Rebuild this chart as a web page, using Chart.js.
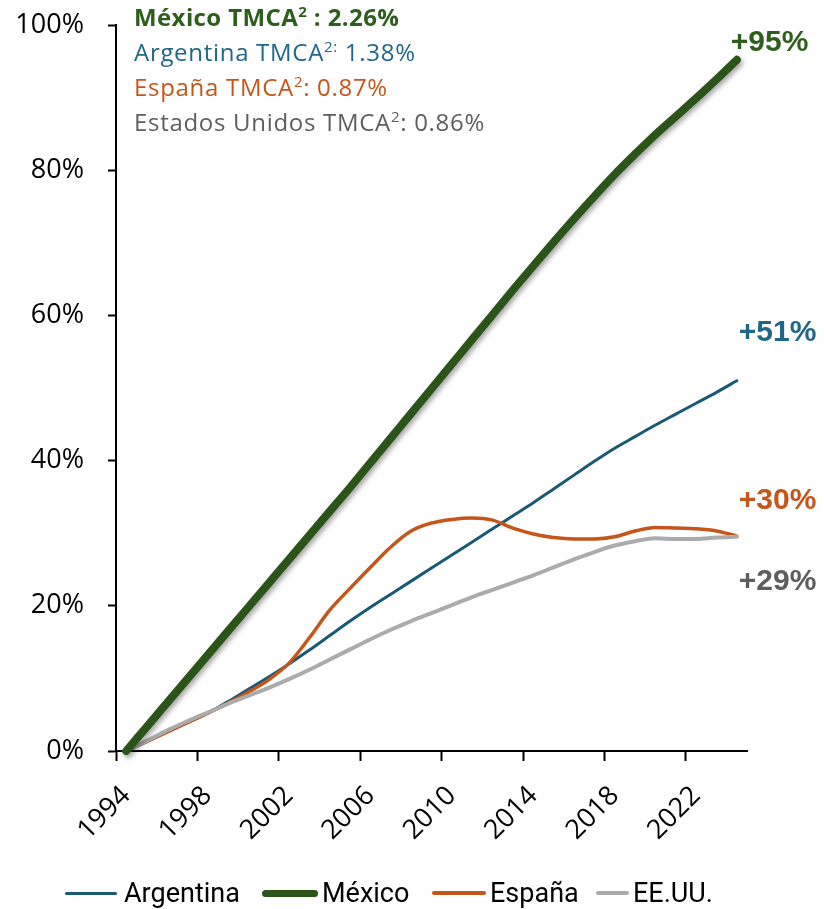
<!DOCTYPE html>
<html>
<head>
<meta charset="utf-8">
<script src="https://cdn.jsdelivr.net/npm/chart.js@4.4.1/dist/chart.umd.min.js"></script>
<style>
  html, body { margin: 0; padding: 0; background: #fff; }
  #wrap { position: relative; width: 824px; height: 909px; }
  #legend {
    position: absolute; left: 0; top: 876px; width: 824px; height: 34px;
    font-family: Roboto, "Noto Sans", sans-serif;
    font-size: 27px; color: #000; line-height: 34px;
  }
  #legend .swatch { position: absolute; border-radius: 4px; }
  #legend .name { position: absolute; top: 0; white-space: nowrap; }
</style>
</head>
<body>
<div id="wrap">
  <canvas id="chart" width="824" height="909"></canvas>
  <div id="legend"></div>
</div>
<script>
// Years on the category axis
const YEARS = ['1994', '1995', '1996', '1997', '1998', '1999', '2000', '2001', '2002', '2003',
  '2004', '2005', '2006', '2007', '2008', '2009', '2010', '2011', '2012', '2013', '2014',
  '2015', '2016', '2017', '2018', '2019', '2020', '2021', '2022', '2023', '2024'];

// Cumulative growth since 1994, in %
const ARGENTINA = [0, 1.3, 2.6, 3.9, 5.2, 6.8, 8.5, 10.2, 12.0, 13.9, 15.9, 17.9, 19.8, 21.6,
  23.4, 25.2, 27.0, 28.8, 30.6, 32.4, 34.2, 36.1, 38.0, 39.9, 41.7, 43.3, 44.9, 46.4, 47.9, 49.4, 51.0];
const MEXICO = [0, 3.3, 6.6, 9.9, 13.2, 16.5, 19.8, 23.1, 26.4, 29.7, 33.0, 36.3, 39.7, 43.1,
  46.5, 49.9, 53.3, 56.7, 60.1, 63.5, 66.8, 70.1, 73.3, 76.4, 79.4, 82.2, 84.9, 87.4, 89.9, 92.5, 95.2];
const ESPANA = [0, 1.3, 2.6, 3.9, 5.2, 6.6, 8.1, 9.8, 12.1, 15.6, 19.4, 22.4, 25.3, 28.1,
  30.3, 31.4, 31.9, 32.1, 31.8, 30.7, 29.9, 29.4, 29.2, 29.2, 29.5, 30.3, 30.8, 30.7, 30.6, 30.3, 29.6];
const EEUU = [0, 1.4, 2.8, 4.1, 5.3, 6.5, 7.6, 8.7, 9.9, 11.2, 12.6, 14.0, 15.4, 16.7,
  17.9, 19.0, 20.1, 21.2, 22.2, 23.2, 24.2, 25.3, 26.4, 27.4, 28.3, 28.9, 29.3, 29.2, 29.2, 29.4, 29.5];

const SERIES_NAMES = ['Argentina', 'México', 'España', 'EE.UU.'];
const END_LABELS = ['+51%', '+95%', '+30%', '+29%'];
const Y_MAX = 100;
const Y_STEP = 20;

// [before superscript, superscript, after]
const HEADER_TEXT = [
  ['México TMCA', '2', ' : 2.26%'],
  ['Argentina TMCA', '2:', ' 1.38%'],
  ['España TMCA', '2', ': 0.87%'],
  ['Estados Unidos TMCA', '2', ': 0.86%'],
];

const LINE_COLORS = ['#185A74', '#2A5418', '#C5561A', '#ABABAB'];
const TEXT_COLORS = ['#1F6788', '#2E5E1C', '#C5561A', '#5E5E5E'];
const HEADER_ORDER = [1, 0, 2, 3]; // header row -> series index
const LINE_WIDTHS = [3, 8, 3.5, 4];
const DRAW_ORDER = [3, 0, 2, 1]; // lower = on top
// end label offsets from last point (px)
const LABEL_OFFSETS = [[2, -48], [-6, -17], [2, -35], [2, 45]];
// legend: swatch left/right, text left
const LEGEND_POS = [[65, 117, 124], [262, 318, 322], [432, 486, 490], [596, 629, 633]];

const FONT = '"Open Sans", "Noto Sans", sans-serif';

const shadowPlugin = {
  id: 'lineShadow',
  beforeDatasetDraw(chart, args) {
    if (args.index !== 1) return;
    const ctx = chart.ctx;
    ctx.save();
    ctx.shadowColor = 'rgba(0,0,0,0.35)';
    ctx.shadowBlur = 5;
    ctx.shadowOffsetX = 2;
    ctx.shadowOffsetY = 3;
  },
  afterDatasetDraw(chart, args) {
    if (args.index !== 1) return;
    chart.ctx.restore();
  },
};

const labelsPlugin = {
  id: 'textLabels',
  afterDraw(chart) {
    const ctx = chart.ctx;
    ctx.save();
    ctx.textBaseline = 'middle';
    ctx.textAlign = 'left';

    // end-of-line labels
    chart.data.datasets.forEach((ds, i) => {
      const meta = chart.getDatasetMeta(i);
      const pt = meta.data[meta.data.length - 1];
      ctx.font = 'bold 30px "Liberation Sans", Arial, sans-serif';
      ctx.fillStyle = TEXT_COLORS[i];
      ctx.fillText(END_LABELS[i], pt.x + LABEL_OFFSETS[i][0], pt.y + LABEL_OFFSETS[i][1]);
    });

    // CAGR header
    ctx.textBaseline = 'alphabetic';
    HEADER_TEXT.forEach((parts, row) => {
      const s = HEADER_ORDER[row];
      const weight = row === 0 ? 'bold ' : '';
      ctx.letterSpacing = row === 0 ? '0.4px' : '0.7px';
      const base = 26 + row * 35;
      let x = 134;
      ctx.fillStyle = TEXT_COLORS[s];
      parts.forEach((txt, k) => {
        const sup = k === 1;
        ctx.font = weight + (sup ? '15px ' : '24px ') + FONT;
        ctx.fillText(txt, x, sup ? base - 9 : base);
        x += ctx.measureText(txt).width;
      });
    });
    ctx.restore();
  },
};

const datasets = [ARGENTINA, MEXICO, ESPANA, EEUU].map((values, i) => ({
  label: SERIES_NAMES[i],
  data: values,
  borderColor: LINE_COLORS[i],
  backgroundColor: LINE_COLORS[i],
  borderWidth: LINE_WIDTHS[i],
  borderCapStyle: 'round',
  borderJoinStyle: 'round',
  pointRadius: 0,
  cubicInterpolationMode: 'monotone',
  fill: false,
  clip: false,
  order: DRAW_ORDER[i],
}));

new Chart(document.getElementById('chart'), {
  type: 'line',
  data: { labels: YEARS, datasets },
  options: {
    responsive: false,
    animation: false,
    layout: { padding: { top: 25, right: 77, left: 0, bottom: 0 } },
    plugins: { legend: { display: false }, tooltip: { enabled: false } },
    scales: {
      x: {
        type: 'category',
        offset: true,
        afterFit: (s) => { s.height = 158; s.paddingTop = 0; s.paddingBottom = 0; },
        grid: {
          offset: true,
          drawOnChartArea: false,
          tickLength: 10,
          tickWidth: 2,
          tickColor: (c) => (c.index % 4 === 0 ? '#000' : 'rgba(0,0,0,0)'),
        },
        border: { display: true, color: '#000', width: 2 },
        ticks: {
          autoSkip: false,
          maxRotation: 45,
          minRotation: 45,
          padding: 19,
          color: '#000',
          font: { family: FONT, size: 27 },
          callback: function (v, i) { return i % 4 === 0 ? this.getLabelForValue(v) : ''; },
        },
      },
      y: {
        min: 0,
        max: Y_MAX,
        afterFit: (s) => { s.width = 116; s.paddingTop = 0; s.paddingBottom = 0; },
        grid: { drawOnChartArea: false, tickLength: 8, tickWidth: 2, tickColor: '#000' },
        border: { display: true, color: '#000', width: 2 },
        ticks: {
          stepSize: Y_STEP,
          padding: 24,
          color: '#000',
          font: { family: FONT, size: 27 },
          callback: (v) => v + '%',
        },
      },
    },
  },
  plugins: [shadowPlugin, labelsPlugin],
});

// legend, positioned like the original
const legend = document.getElementById('legend');
SERIES_NAMES.forEach((name, i) => {
  const [x0, x1, tx] = LEGEND_POS[i];
  const h = i === 1 ? 7 : LINE_WIDTHS[i];
  const sw = document.createElement('span');
  sw.className = 'swatch';
  sw.style.left = x0 + 'px';
  sw.style.width = (x1 - x0) + 'px';
  sw.style.height = h + 'px';
  sw.style.top = (17 - h / 2) + 'px';
  sw.style.background = LINE_COLORS[i];
  const txt = document.createElement('span');
  txt.className = 'name';
  txt.style.left = tx + 'px';
  txt.textContent = name;
  legend.appendChild(sw);
  legend.appendChild(txt);
});
</script>
</body>
</html>
